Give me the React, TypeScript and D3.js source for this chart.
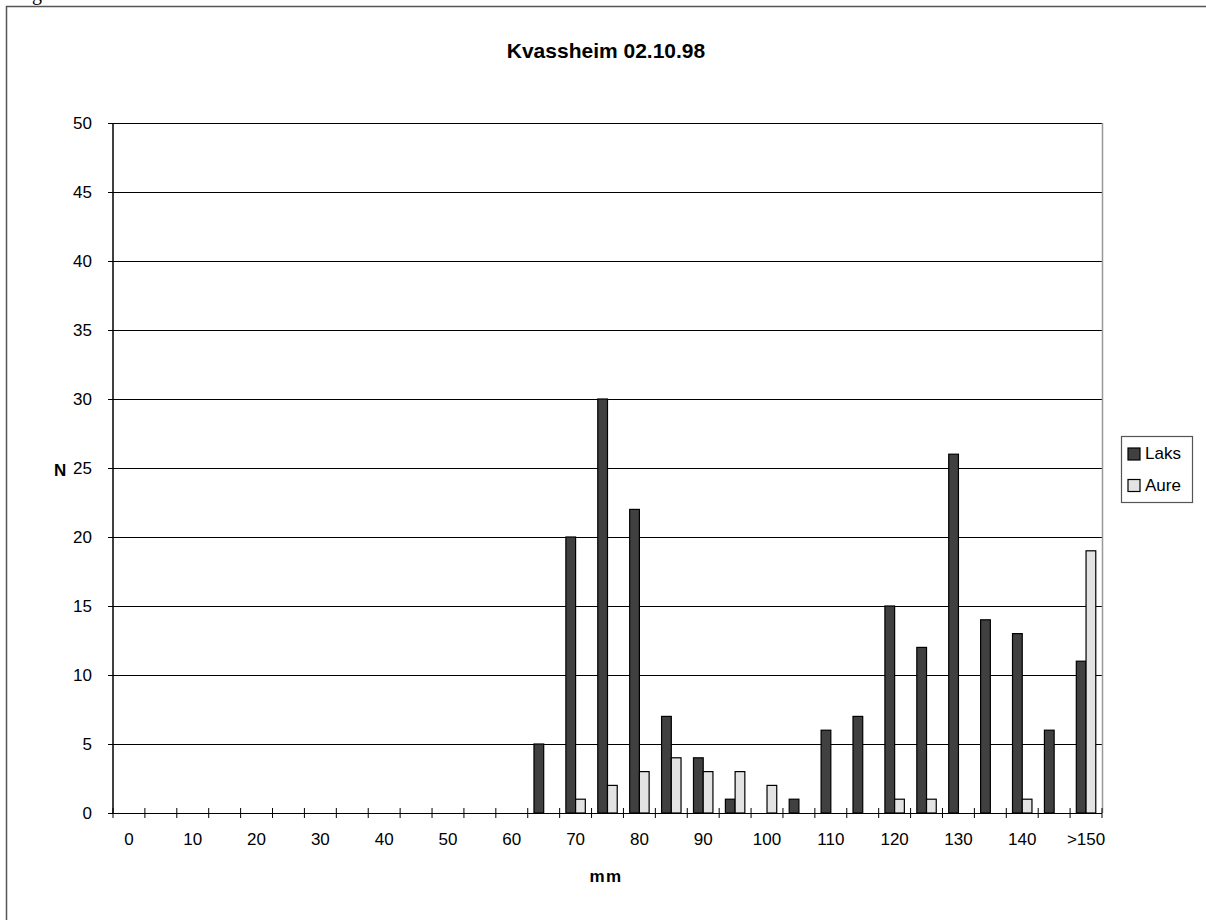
import React from "react";
import * as d3 from "d3";

const categories = ["0","5","10","15","20","25","30","35","40","45","50","55","60","65","70","75","80","85","90","95","100","105","110","115","120","125","130","135","140","145",">150"];
const laks = [0,0,0,0,0,0,0,0,0,0,0,0,0,5,20,30,22,7,4,1,0,1,6,7,15,12,26,14,13,6,11];
const aure = [0,0,0,0,0,0,0,0,0,0,0,0,0,0,1,2,3,4,3,3,2,0,0,0,1,1,0,0,1,0,19];
const seriesNames = ["Laks", "Aure"];
const seriesColors = ["#404040", "#e3e3e3"];
const yTicks = [0,5,10,15,20,25,30,35,40,45,50];
const title = "Kvassheim 02.10.98";

const W = 1206, H = 920;
const L = 113, R = 1102, T = 123, B = 813;
const font = "Liberation Sans, Arial, sans-serif";

export default function App() {
  const x = d3.scaleBand<string>().domain(categories).range([L, R]).padding(0);
  const inner = d3.scaleBand<string>().domain(seriesNames).range([0, x.bandwidth()]).paddingInner(0).paddingOuter(0.64);
  const y = d3.scaleLinear().domain([0, 50]).range([B, T]);
  const series = [laks, aure];
  const boundaries = categories.map((c) => x(c) as number).concat([R]);

  return (
    <svg width={W} height={H} style={{ position: "absolute", left: 0, top: 0, overflow: "hidden", background: "#fff" }}>
      <text x={32} y={0} fontFamily="Liberation Serif, serif" fontSize={20}>g</text>
      <rect x={6.5} y={6.5} width={1300} height={1000} fill="#fff" stroke="#555" strokeWidth={1.5} />
      <text x={606} y={58} textAnchor="middle" fontFamily={font} fontWeight="bold" fontSize={21}>{title}</text>
      {yTicks.map((t) => (
        <g key={t}>
          {t > 0 && <line x1={L} x2={R} y1={y(t) + 0.5} y2={y(t) + 0.5} stroke="#000" strokeWidth={1} />}
          <line x1={L - 5} x2={L} y1={y(t) + 0.5} y2={y(t) + 0.5} stroke="#000" strokeWidth={1} />
          <text x={92} y={y(t)} dy="0.36em" textAnchor="end" fontFamily={font} fontSize={17}>{t}</text>
        </g>
      ))}
      <line x1={R + 0.5} x2={R + 0.5} y1={T} y2={B} stroke="#999" strokeWidth={1.5} />
      {series.map((vals, si) =>
        vals.map((v, i) =>
          v > 0 ? (
            <rect key={si + "-" + i}
              x={(x(categories[i]) as number) + (inner(seriesNames[si]) as number)}
              y={y(v)}
              width={inner.bandwidth()}
              height={B - y(v)}
              fill={seriesColors[si]} stroke="#000" strokeWidth={1.2} />
          ) : null
        )
      )}
      <line x1={L} x2={L} y1={T} y2={B} stroke="#000" strokeWidth={1.5} />
      <line x1={L - 5} x2={R} y1={B + 0.5} y2={B + 0.5} stroke="#000" strokeWidth={1.2} />
      {boundaries.map((bx, i) => (
        <line key={i} x1={bx} x2={bx} y1={B - 5} y2={B + 5} stroke="#000" strokeWidth={1} />
      ))}
      {categories.map((c, i) =>
        i % 2 === 0 || i === categories.length - 1 ? (
          <text key={c} x={(x(c) as number) + x.bandwidth() / 2} y={845} textAnchor="middle" fontFamily={font} fontSize={17}>{c}</text>
        ) : null
      )}
      <text x={606} y={882} textAnchor="middle" fontFamily={font} fontWeight="bold" fontSize={17} letterSpacing={1.5}>mm</text>
      <text x={54} y={470} dy="0.36em" fontFamily={font} fontWeight="bold" fontSize={17}>N</text>
      <g>
        <rect x={1121.5} y={436.5} width={71} height={66} fill="#fff" stroke="#555" strokeWidth={1.2} />
        {seriesNames.map((s, i) => (
          <g key={s}>
            <rect x={1128} y={448 + i * 31.5} width={12} height={12} fill={seriesColors[i]} stroke="#000" strokeWidth={1.2} />
            <text x={1145} y={459 + i * 31.5} fontFamily={font} fontSize={17}>{s}</text>
          </g>
        ))}
      </g>
    </svg>
  );
}
